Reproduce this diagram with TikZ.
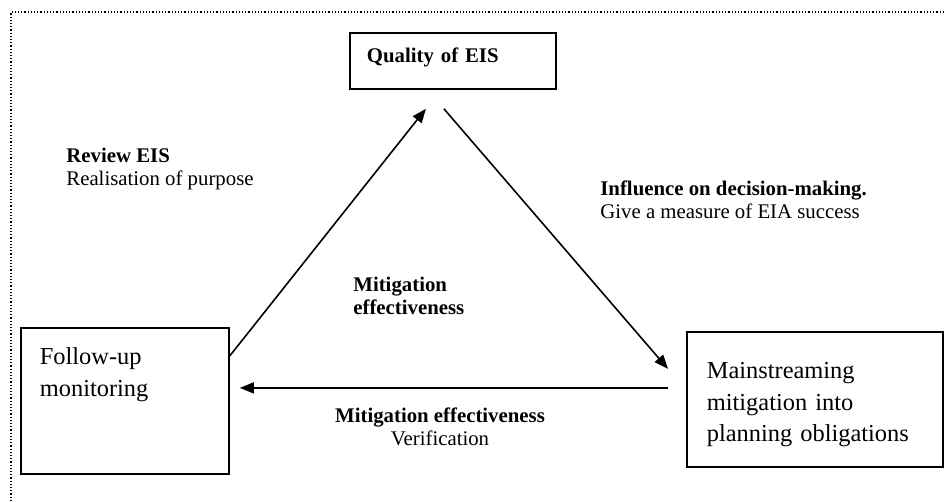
\documentclass[tikz,border=0pt]{standalone}
\usepackage{fontspec}
\setmainfont{Liberation Serif}
\usetikzlibrary{positioning}
\usetikzlibrary{arrows.meta}

\begin{document}
\begin{tikzpicture}[x=0.5pt, y=-0.5pt,
smallbox/.style={rectangle, draw=black, line width=0.9pt, anchor=north west, align=left, inner ysep=0pt, font=\fontsize{10.4}{11.5}\selectfont\bfseries},
bigbox/.style={rectangle, draw=black, line width=0.9pt, anchor=north west, align=left, inner ysep=0pt, font=\fontsize{12.2}{15.75}\selectfont},
labelnode/.style={anchor=base west, align=left, inner sep=0pt, font=\fontsize{10.4}{11.5}\selectfont},
arrowline/.style={-{Triangle[length=7pt,width=5.5pt]}, line width=0.8pt},
framelines/.style={densely dotted, line width=0.6pt}]
\useasboundingbox (0,0) rectangle (944,502);
\draw[framelines] (944,12) -- (11,12) -- (11,502);

\node[smallbox, inner xsep=8.5pt, text width=86pt, text height=15pt, text depth=13pt] (eis) at (349,32) {Quality of EIS};
\node[bigbox, inner xsep=9.5pt, text width=85pt, text height=18.5pt, text depth=54.5pt] (follow) at (20,327) {Follow-up\\monitoring};
\node[bigbox, inner xsep=10pt, text width=108pt, text height=23.5pt, text depth=44pt] (main) at (686,331) {Mainstreaming\\mitigation into\\planning obligations};

\node[labelnode] (review) at (66,186) {\textbf{Review EIS}\\Realisation of purpose};
\node[labelnode] (influence) at (600,219) {\textbf{Influence on decision-making.}\\Give a measure of EIA success};
\node[labelnode] (mitig) at (353,315) {\textbf{Mitigation}\\\textbf{effectiveness}};
\node[labelnode, anchor=base, align=center] (verif) at (440,446) {\textbf{Mitigation effectiveness}\\Verification};

\draw[arrowline] ([yshift=22.5pt]follow.east) -- ([shift={(-13.5pt,-9.5pt)}]eis.south);
\draw[arrowline] ([shift={(-4.5pt,-9.5pt)}]eis.south) -- ([shift={(-9pt,15.25pt)}]main.west);
\draw[arrowline] ([shift={(-9pt,5.75pt)}]main.west) -- ([shift={(5pt,6.5pt)}]follow.east);
\end{tikzpicture}
\end{document}
